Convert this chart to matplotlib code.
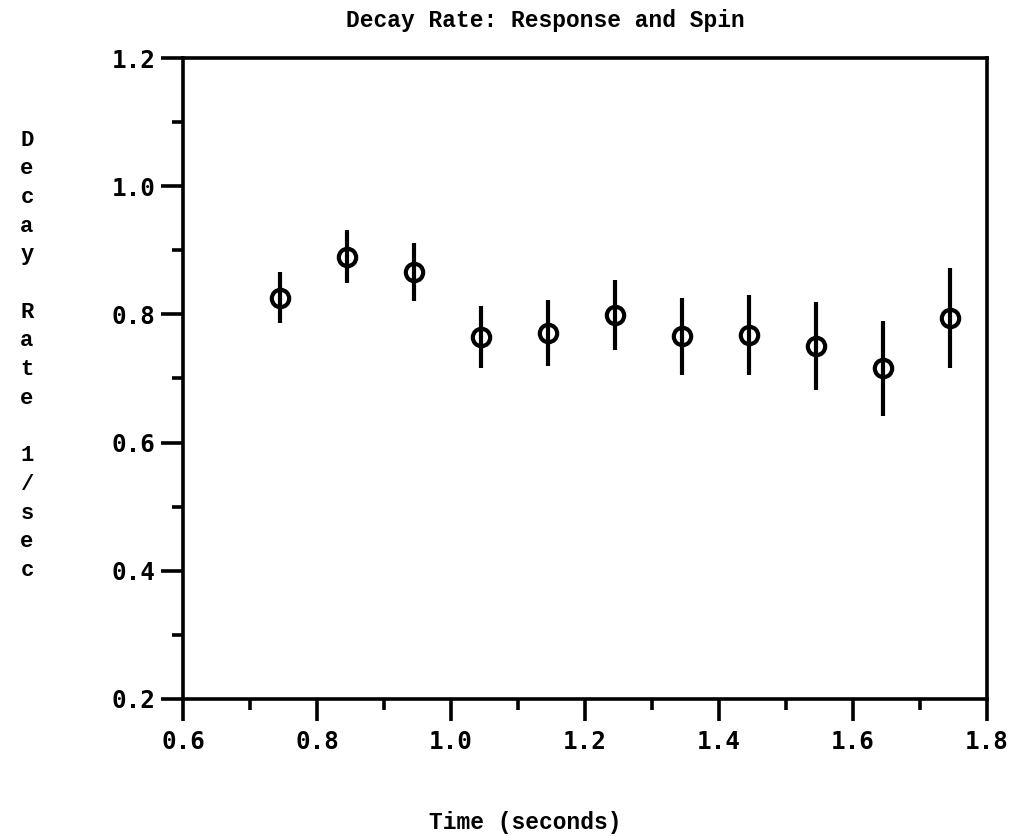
import matplotlib
matplotlib.use("Agg")
import matplotlib.pyplot as plt
from matplotlib.ticker import MultipleLocator, FormatStrFormatter

# Data
time_s = [0.745, 0.845, 0.945, 1.045, 1.145, 1.245, 1.345, 1.445, 1.545, 1.645, 1.745]
decay_rate = [0.826, 0.890, 0.866, 0.765, 0.771, 0.799, 0.766, 0.768, 0.751, 0.716, 0.795]
decay_err = [0.040, 0.041, 0.045, 0.048, 0.051, 0.055, 0.060, 0.063, 0.069, 0.074, 0.078]

title = "Decay Rate: Response and Spin"
xlabel = "Time (seconds)"
ylabel_letters = list("Decay") + [""] + list("Rate") + [""] + list("1/sec")

fig = plt.figure(figsize=(10.15, 8.36), dpi=100)
ax = fig.add_axes([0.1803, 0.1639, 0.7921, 0.7667])

ax.errorbar(time_s, decay_rate, yerr=decay_err, fmt='o', color='black',
            ecolor='black', elinewidth=3.0, capsize=0, markersize=12.5,
            mfc='none', mec='black', mew=3.0)

ax.set_xlim(0.6, 1.8)
ax.set_ylim(0.2, 1.2)
ax.xaxis.set_major_locator(MultipleLocator(0.2))
ax.xaxis.set_minor_locator(MultipleLocator(0.1))
ax.yaxis.set_major_locator(MultipleLocator(0.2))
ax.yaxis.set_minor_locator(MultipleLocator(0.1))
ax.xaxis.set_major_formatter(FormatStrFormatter('%.1f'))
ax.yaxis.set_major_formatter(FormatStrFormatter('%.1f'))

for s in ax.spines.values():
    s.set_linewidth(2.6)

ax.tick_params(which='major', direction='out', length=16, width=2.6, pad=4)
ax.tick_params(which='minor', direction='out', length=8, width=2.6)
ax.tick_params(axis='x', which='major', pad=6)

for lab in ax.get_xticklabels() + ax.get_yticklabels():
    lab.set_fontfamily('DejaVu Sans Mono')
    lab.set_fontweight('bold')
    lab.set_fontsize(17.5)

fig.text(545 / 1015, 1 - 20 / 836, title, ha='center', va='center',
         fontfamily='Liberation Mono', fontweight='bold', fontsize=16.5)
fig.text(525 / 1015, 1 - 822 / 836, xlabel, ha='center', va='center',
         fontfamily='Liberation Mono', fontweight='bold', fontsize=16.5)

y0 = 140
step = 28.7
for i, ch in enumerate(ylabel_letters):
    if ch:
        fig.text(27 / 1015, 1 - (y0 + i * step) / 836, ch, ha='center', va='center',
                 fontfamily='Liberation Mono', fontweight='bold', fontsize=16)

fig.savefig("out.png", dpi=100)
